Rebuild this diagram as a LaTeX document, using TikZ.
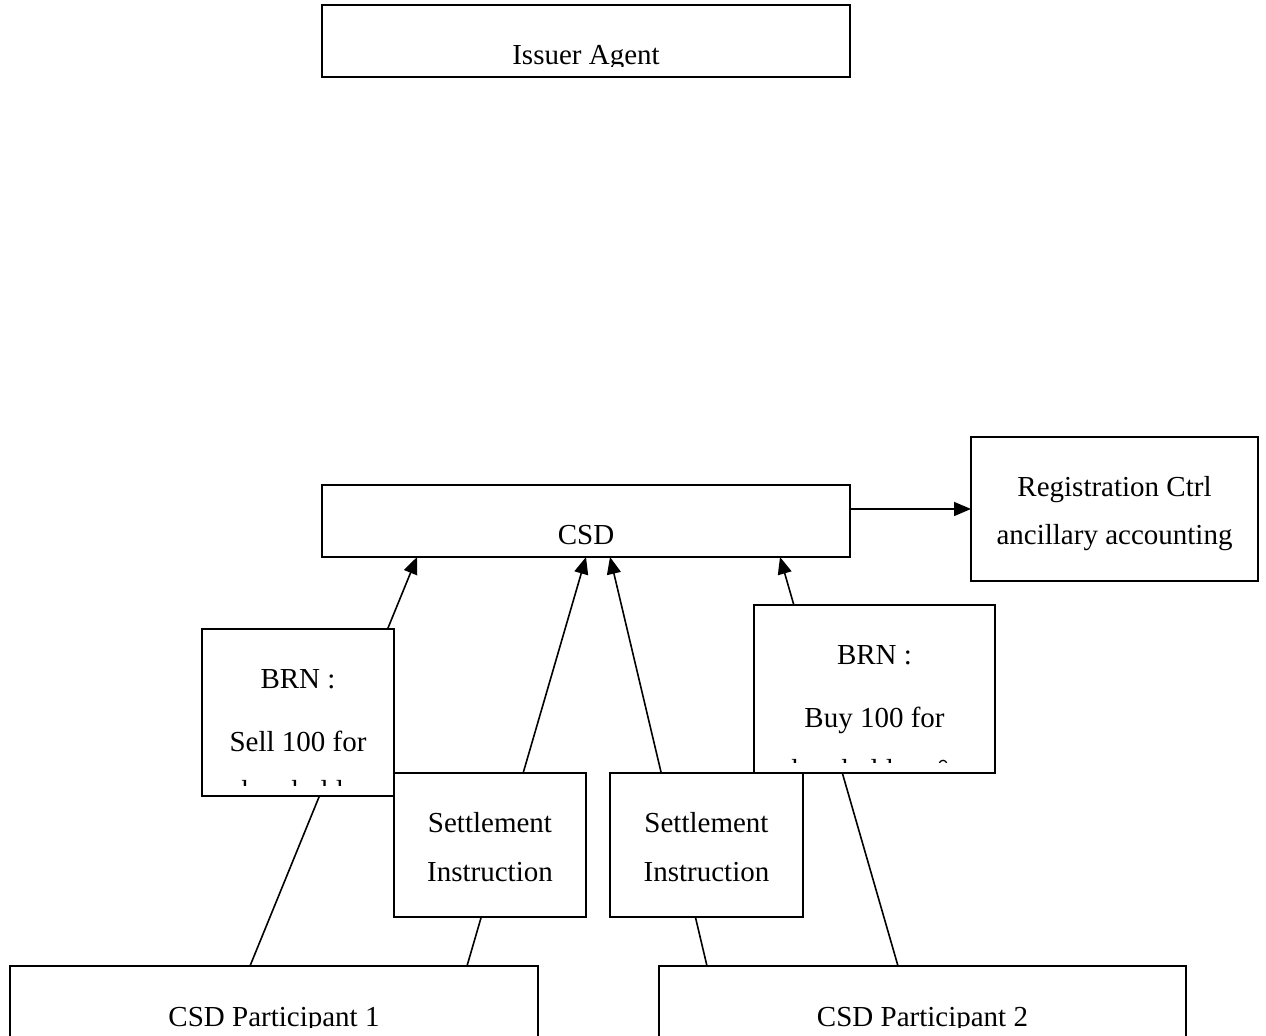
\documentclass[tikz,border=0pt]{standalone}
\usepackage{fontspec}
\setmainfont{Liberation Serif}
\usetikzlibrary{arrows.meta}
\newcommand\bxclip[1]{\clip (#1.north west) rectangle ([yshift=5pt]#1.south east);}
\begin{document}
\begin{tikzpicture}[x=0.5pt,y=-0.5pt,
  box/.style={draw, line width=0.9pt, fill=white, inner sep=0pt, outer sep=0pt},
  txt/.style={anchor=base, inner sep=0pt, font=\fontsize{14.5pt}{24pt}\selectfont},
  conn/.style={line width=0.8pt, -{Triangle[length=8.5pt,width=7pt]}},
]
\useasboundingbox (0,0) rectangle (1266,1036);
\clip (0,0) rectangle (1266,1036);

% boxes that anchor connectors first
\node[box, minimum width=264pt, minimum height=36pt] (csd) at (586,521) {};
\node[box, minimum width=143.5pt, minimum height=72pt] (reg) at (1114.5,509) {};
\node[box, minimum width=264pt, minimum height=36pt] (p1) at (274,1002) {};
\node[box, minimum width=263.5pt, minimum height=36pt] (p2) at (922.5,1002) {};

% connectors (drawn before the message boxes that sit over them)
\draw[conn] ([xshift=120pt]p1.north west) -- ([xshift=47.5pt]csd.south west);
\draw[conn] ([xshift=228.5pt]p1.north west) -- (csd.south);
\draw[conn] ([xshift=24pt]p2.north west) -- ([xshift=144pt]csd.south west);
\draw[conn] ([xshift=119.5pt]p2.north west) -- ([xshift=229pt]csd.south west);
\draw[conn] (reg.west -| csd.east) -- (reg.west);

% other boxes
\node[box, minimum width=264pt, minimum height=36pt] (issuer) at (586,41) {};
\node[box, minimum width=96pt, minimum height=83.5pt] (brnL) at (298,712.5) {};
\node[box, minimum width=120.5pt, minimum height=84pt] (brnR) at (874.5,689) {};
\node[box, minimum width=96pt, minimum height=72pt] (setL) at (490,845) {};
\node[box, minimum width=96.5pt, minimum height=72pt] (setR) at (706.5,845) {};

% texts, clipped inside their boxes
\begin{scope}\bxclip{issuer}
\node[txt] (tIssuer) at (586,65) {Issuer Agent};
\end{scope}
\begin{scope}\bxclip{csd}
\node[txt] (tCsd) at (586,545) {CSD};
\end{scope}
\begin{scope}\bxclip{reg}
\node[txt] (tReg1) at (1114.5,497) {Registration Ctrl};
\node[txt] (tReg2) at (1114.5,545) {ancillary accounting};
\end{scope}
\begin{scope}\bxclip{brnL}
\node[txt] (tBl1) at (298,689) {BRN :};
\node[txt] (tBl2) at (298,752) {Sell 100 for};
\node[txt] (tBl3) at (298,801) {shareholder};
\end{scope}
\begin{scope}\bxclip{brnR}
\node[txt] (tBr1) at (874.5,665) {BRN :};
\node[txt] (tBr2) at (874.5,728) {Buy 100 for};
\node[txt, anchor=base west] (tBr3) at (780,779.5) {shareholder n°};
\end{scope}
\begin{scope}\bxclip{setL}
\node[txt] (tSl1) at (490,833) {Settlement};
\node[txt] (tSl2) at (490,882) {Instruction};
\end{scope}
\begin{scope}\bxclip{setR}
\node[txt] (tSr1) at (706.5,833) {Settlement};
\node[txt] (tSr2) at (706.5,882) {Instruction};
\end{scope}
\begin{scope}\bxclip{p1}
\node[txt] (tP1) at (274,1027) {CSD Participant 1};
\end{scope}
\begin{scope}\bxclip{p2}
\node[txt] (tP2) at (922.5,1027) {CSD Participant 2};
\end{scope}
\end{tikzpicture}
\end{document}
